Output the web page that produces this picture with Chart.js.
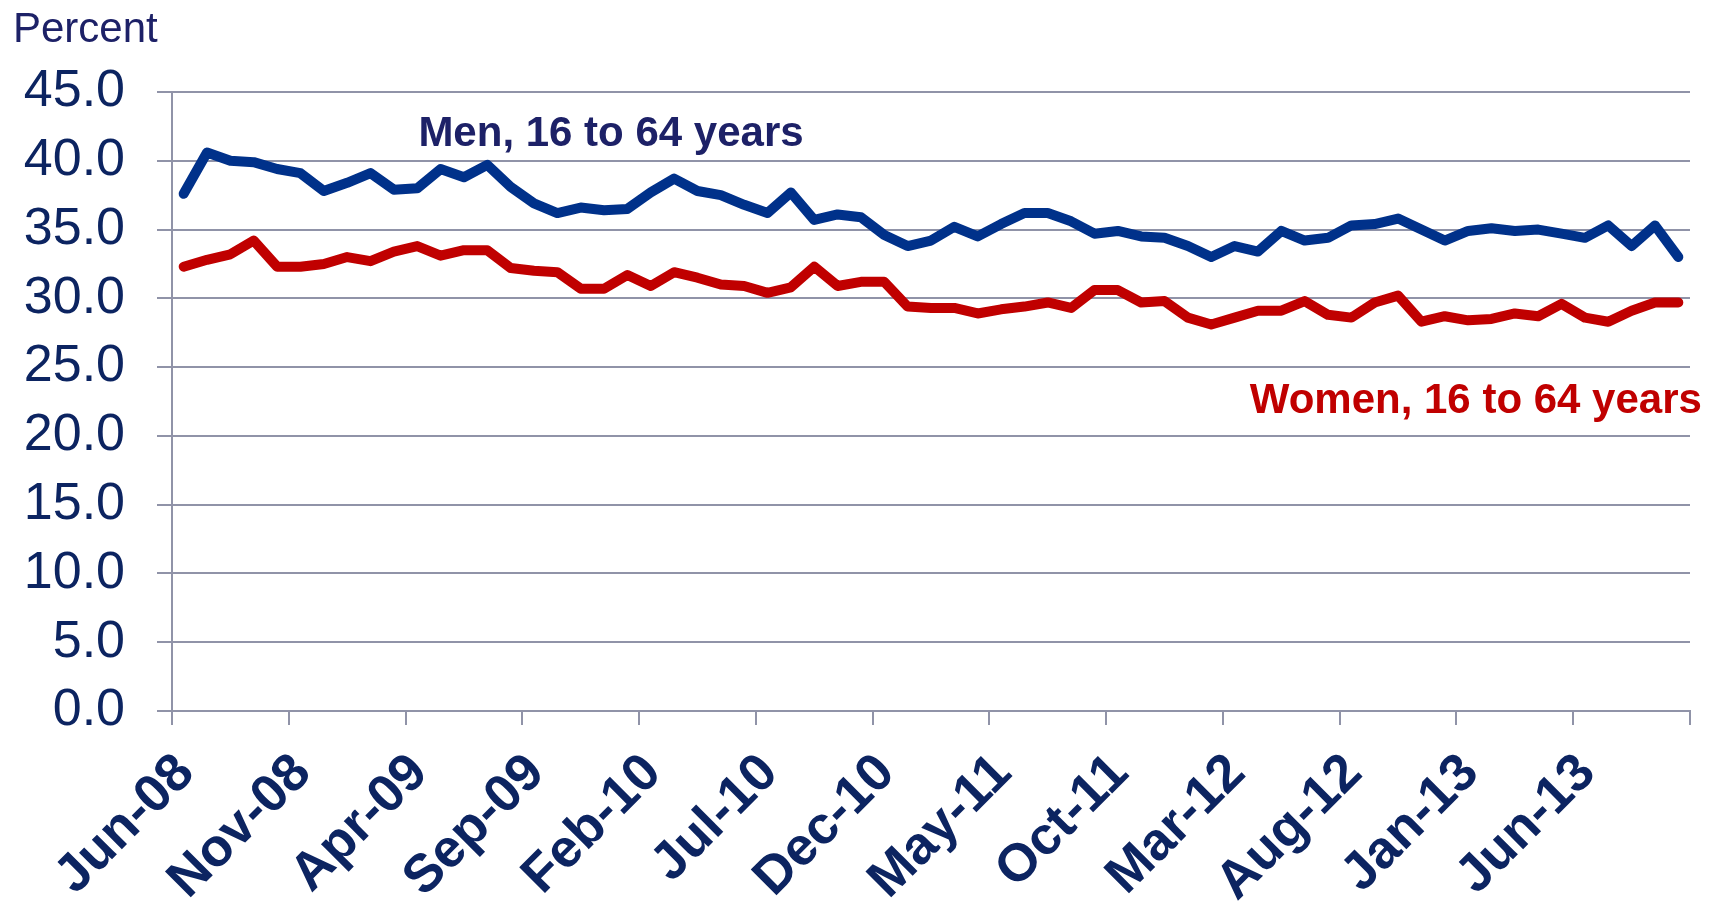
<!DOCTYPE html>
<html>
<head>
<meta charset="utf-8">
<script src="https://cdn.jsdelivr.net/npm/chart.js@4"></script>
<style>
  html, body { margin: 0; padding: 0; background: #fff; }
  #wrap { width: 1711px; height: 907px; position: relative; }
</style>
</head>
<body>
<div id="wrap"><canvas id="chart"></canvas></div>
<script>
// Monthly series, Jun-08 .. Oct-13
const months = [
  'Jun-08','Jul-08','Aug-08','Sep-08','Oct-08','Nov-08','Dec-08','Jan-09','Feb-09','Mar-09',
  'Apr-09','May-09','Jun-09','Jul-09','Aug-09','Sep-09','Oct-09','Nov-09','Dec-09','Jan-10',
  'Feb-10','Mar-10','Apr-10','May-10','Jun-10','Jul-10','Aug-10','Sep-10','Oct-10','Nov-10',
  'Dec-10','Jan-11','Feb-11','Mar-11','Apr-11','May-11','Jun-11','Jul-11','Aug-11','Sep-11',
  'Oct-11','Nov-11','Dec-11','Jan-12','Feb-12','Mar-12','Apr-12','May-12','Jun-12','Jul-12',
  'Aug-12','Sep-12','Oct-12','Nov-12','Dec-12','Jan-13','Feb-13','Mar-13','Apr-13','May-13',
  'Jun-13','Jul-13','Aug-13','Sep-13','Oct-13'
];

const men = [
  37.6, 40.6, 40.0, 39.9, 39.4, 39.1, 37.8, 38.4, 39.1, 37.9,
  38.0, 39.4, 38.8, 39.7, 38.1, 36.9, 36.2, 36.6, 36.4, 36.5,
  37.7, 38.7, 37.8, 37.5, 36.8, 36.2, 37.7, 35.7, 36.1, 35.9,
  34.6, 33.8, 34.2, 35.2, 34.5, 35.4, 36.2, 36.2, 35.6, 34.7,
  34.9, 34.5, 34.4, 33.8, 33.0, 33.8, 33.4, 34.9, 34.2, 34.4,
  35.3, 35.4, 35.8, 35.0, 34.2, 34.9, 35.1, 34.9, 35.0, 34.7,
  34.4, 35.3, 33.8, 35.3, 33.0
];

const women = [
  32.3, 32.8, 33.2, 34.2, 32.3, 32.3, 32.5, 33.0, 32.7, 33.4,
  33.8, 33.1, 33.5, 33.5, 32.2, 32.0, 31.9, 30.7, 30.7, 31.7,
  30.9, 31.9, 31.5, 31.0, 30.9, 30.4, 30.8, 32.3, 30.9, 31.2,
  31.2, 29.4, 29.3, 29.3, 28.9, 29.2, 29.4, 29.7, 29.3, 30.6,
  30.6, 29.7, 29.8, 28.6, 28.1, 28.6, 29.1, 29.1, 29.8, 28.8,
  28.6, 29.7, 30.2, 28.3, 28.7, 28.4, 28.5, 28.9, 28.7, 29.6,
  28.6, 28.3, 29.1, 29.7, 29.7
];

const yTicks = [0, 5, 10, 15, 20, 25, 30, 35, 40, 45];

const NAVY = '#0c2461';
const LABEL_NAVY = '#1d2167';
const BLUE = '#00318a';
const RED = '#c00000';
const GRID = '#9093a8';
const FONT = "'Liberation Sans', Arial, sans-serif";

// text annotations placed in data space
const seriesLabels = [
  { text: 'Men, 16 to 64 years', x: 10.55, y: 41.1, color: LABEL_NAVY },
  { text: 'Women, 16 to 64 years', x: 46.15, y: 21.7, color: RED }
];

const textPlugin = {
  id: 'textPlugin',
  afterDraw(chart) {
    const ctx = chart.ctx;
    const xs = chart.scales.x, ys = chart.scales.y;
    ctx.save();
    ctx.textBaseline = 'alphabetic';
    ctx.textAlign = 'left';
    ctx.fillStyle = LABEL_NAVY;
    ctx.font = '42px ' + FONT;
    ctx.fillText('Percent', 13, 42);
    ctx.font = 'bold 42px ' + FONT;
    seriesLabels.forEach(l => {
      ctx.fillStyle = l.color;
      ctx.fillText(l.text, xs.getPixelForValue(l.x), ys.getPixelForValue(l.y));
    });
    ctx.restore();
  }
};

const toPoints = arr => arr.map((v, i) => ({ x: i + 0.5, y: v }));

new Chart(document.getElementById('chart').getContext('2d'), {
  type: 'line',
  data: {
    datasets: [
      {
        label: 'Men, 16 to 64 years',
        data: toPoints(men),
        borderColor: BLUE,
        borderWidth: 10,
        pointRadius: 0,
        tension: 0,
        borderJoinStyle: 'round',
        borderCapStyle: 'round'
      },
      {
        label: 'Women, 16 to 64 years',
        data: toPoints(women),
        borderColor: RED,
        borderWidth: 10,
        pointRadius: 0,
        tension: 0,
        borderJoinStyle: 'round',
        borderCapStyle: 'round'
      }
    ]
  },
  options: {
    responsive: true,
    maintainAspectRatio: false,
    animation: false,
    layout: { padding: { top: 92, right: 21, left: 0, bottom: 0 } },
    plugins: {
      legend: { display: false },
      tooltip: { enabled: false }
    },
    scales: {
      x: {
        type: 'linear',
        min: 0,
        max: months.length,
        afterFit: s => { s.height = 196; s.paddingLeft = 0; s.paddingRight = 0; },
        afterBuildTicks: s => {
          s.ticks = [];
          for (let i = 0; i <= months.length; i += 5) s.ticks.push({ value: i });
        },
        grid: { drawOnChartArea: false, drawTicks: true, tickLength: 14, color: GRID, lineWidth: 2 },
        border: { display: true, color: GRID, width: 2 },
        ticks: {
          autoSkip: false,
          minRotation: 45,
          maxRotation: 45,
          padding: 17,
          labelOffset: 14,
          color: NAVY,
          font: { family: FONT, size: 53, weight: 'bold' },
          callback: v => months[v] || ''
        }
      },
      y: {
        min: 0,
        max: 45,
        afterFit: s => { s.width = 172; },
        afterBuildTicks: s => { s.ticks = yTicks.map(v => ({ value: v })); },
        grid: { color: GRID, lineWidth: 2, tickLength: 15 },
        border: { display: true, color: GRID, width: 2 },
        ticks: {
          padding: 32,
          color: NAVY,
          font: { family: FONT, size: 52 },
          callback: v => v.toFixed(1)
        }
      }
    }
  },
  plugins: [textPlugin]
});
</script>
</body>
</html>
